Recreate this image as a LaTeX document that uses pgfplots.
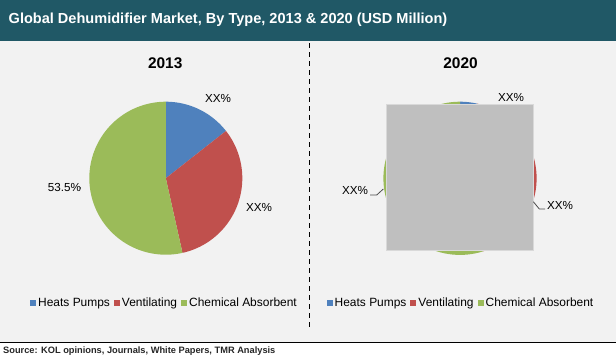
\documentclass[border=0pt]{standalone}
\usepackage{pgfplots}
\usepackage{pgfplotstable}
\pgfplotsset{compat=1.18}
\usepackage{fontspec}
\setmainfont{Liberation Sans}
\definecolor{titlebg}{RGB}{32,88,102}
\definecolor{panel}{RGB}{242,242,242}
\definecolor{cblue}{RGB}{79,129,189}
\definecolor{cred}{RGB}{192,80,77}
\definecolor{cgreen}{RGB}{155,187,89}
\definecolor{cgray}{RGB}{191,191,191}
\definecolor{cgrayedge}{RGB}{217,217,217}

\pgfplotstableread{
type share2013 share2020
HeatsPumps 14.4 3.6
Ventilating 32.1 41.6
ChemicalAbsorbent 53.5 54.8
}\shares

\newcommand{\pieslice}[6]{%
  \addplot[fill=#6, draw=none, domain=#4:#5, samples=120, variable=\t]
    ({#1+#3*cos(\t)},{#2-#3*sin(\t)}) -- (axis cs:#1,#2) -- cycle;
}

\begin{document}
\begin{tikzpicture}[x=1bp,y=1bp]
\pgfplotstablegetelem{0}{share2013}\of\shares\let\HPa\pgfplotsretval
\pgfplotstablegetelem{1}{share2013}\of\shares\let\VEa\pgfplotsretval
\pgfplotstablegetelem{2}{share2013}\of\shares\let\CAa\pgfplotsretval
\pgfplotstablegetelem{0}{share2020}\of\shares\let\HPb\pgfplotsretval
\pgfplotstablegetelem{1}{share2020}\of\shares\let\VEb\pgfplotsretval
\pgfplotstablegetelem{2}{share2020}\of\shares\let\CAb\pgfplotsretval
\pgfmathsetmacro{\aA}{90-3.6*\HPa}
\pgfmathsetmacro{\aB}{\aA-3.6*\VEa}
\pgfmathsetmacro{\aC}{\aB-3.6*\CAa}
\pgfmathsetmacro{\bA}{90-3.6*\HPb}
\pgfmathsetmacro{\bB}{\bA-3.6*\VEb}
\pgfmathsetmacro{\bC}{\bB-3.6*\CAb}
% backgrounds
\fill[white] (0,0) rectangle (616,360);
\fill[titlebg] (0,360) rectangle (616,319);
\fill[panel] (0,319) rectangle (616,17.7);
\draw[black, line width=1bp] (0,17.7) -- (616,17.7);
\draw[black, line width=1.2bp, dash pattern=on 5bp off 4bp] (309.3,317) -- (309.3,33);
\node[anchor=west, text=white, font=\fontsize{14.6}{16}\selectfont\bfseries, inner sep=0pt] at (8.5,340) {Global Dehumidifier Market, By Type, 2013 \& 2020 (USD Million)};
\node[anchor=west, text=black!85, font=\fontsize{9.3}{10}\selectfont\bfseries, inner sep=0pt] at (3,9) {Source: KOL opinions, Journals, White Papers, TMR Analysis};

% 2013 pie
\begin{axis}[at={(0,0)}, anchor=south west, scale only axis, width=616bp, height=360bp,
  xmin=0, xmax=616, ymin=0, ymax=360, y dir=reverse, hide axis, clip=false,
  legend columns=3,
  legend style={at={(164.5/616,57/360)}, anchor=center, draw=none, fill=none,
    font=\fontsize{12}{14}\selectfont, inner sep=0pt,
    nodes={inner xsep=2bp, inner ysep=1bp},
    /tikz/every even column/.append style={column sep=2bp}},
  legend image code/.code={\fill[#1] (0bp,-3bp) rectangle (6bp,3bp);}]
\pieslice{165.8}{178.2}{76.5}{\aA}{90}{cblue}
\addlegendentry{Heats Pumps}
\pieslice{165.8}{178.2}{76.5}{\aB}{\aA}{cred}
\addlegendentry{Ventilating}
\pieslice{165.8}{178.2}{76.5}{\aC}{\aB}{cgreen}
\addlegendentry{Chemical Absorbent}
\node[font=\fontsize{15.5}{17}\selectfont\bfseries] at (axis cs:165.2,63.3) {2013};
\node[font=\fontsize{11.7}{13}\selectfont] at (axis cs:218,98.3) {XX\%};
\node[font=\fontsize{11.7}{13}\selectfont] at (axis cs:259,207.7) {XX\%};
\node[font=\fontsize{11.7}{13}\selectfont] at (axis cs:64.5,187.3) {53.5\%};
\draw[black!70, line width=0.8bp] (axis cs:80,189) -- (axis cs:80,186.5);
\end{axis}

% 2020 pie
\begin{axis}[at={(0,0)}, anchor=south west, scale only axis, width=616bp, height=360bp,
  xmin=0, xmax=616, ymin=0, ymax=360, y dir=reverse, hide axis, clip=false,
  legend columns=3,
  legend style={at={(461/616,57/360)}, anchor=center, draw=none, fill=none,
    font=\fontsize{12}{14}\selectfont, inner sep=0pt,
    nodes={inner xsep=2bp, inner ysep=1bp},
    /tikz/every even column/.append style={column sep=2bp}},
  legend image code/.code={\fill[#1] (0bp,-3bp) rectangle (6bp,3bp);}]
\pieslice{460}{178.3}{76.6}{\bA}{90}{cblue}
\addlegendentry{Heats Pumps}
\pieslice{460}{178.3}{76.6}{\bB}{\bA}{cred}
\addlegendentry{Ventilating}
\pieslice{460}{178.3}{76.6}{\bC}{\bB}{cgreen}
\addlegendentry{Chemical Absorbent}
\addplot[fill=cgray, draw=cgrayedge, line width=1bp, forget plot] coordinates {(386.7,104) (533.3,104) (533.3,250.7) (386.7,250.7)} -- cycle;
\node[font=\fontsize{15.5}{17}\selectfont\bfseries] at (axis cs:460.5,63.3) {2020};
\node[font=\fontsize{11.7}{13}\selectfont] at (axis cs:511,97.3) {XX\%};
\node[font=\fontsize{11.7}{13}\selectfont] at (axis cs:355,190.7) {XX\%};
\node[font=\fontsize{11.7}{13}\selectfont] at (axis cs:560,205) {XX\%};
\draw[black!70, line width=0.8bp] (axis cs:370,195) -- (axis cs:376.7,195) -- (axis cs:383.3,189);
\draw[black!70, line width=0.8bp] (axis cs:533.3,201.7) -- (axis cs:539.3,209) -- (axis cs:545,209);
\end{axis}
\pgfresetboundingbox
\path (0,0) rectangle (616,360);
\end{tikzpicture}
\end{document}
